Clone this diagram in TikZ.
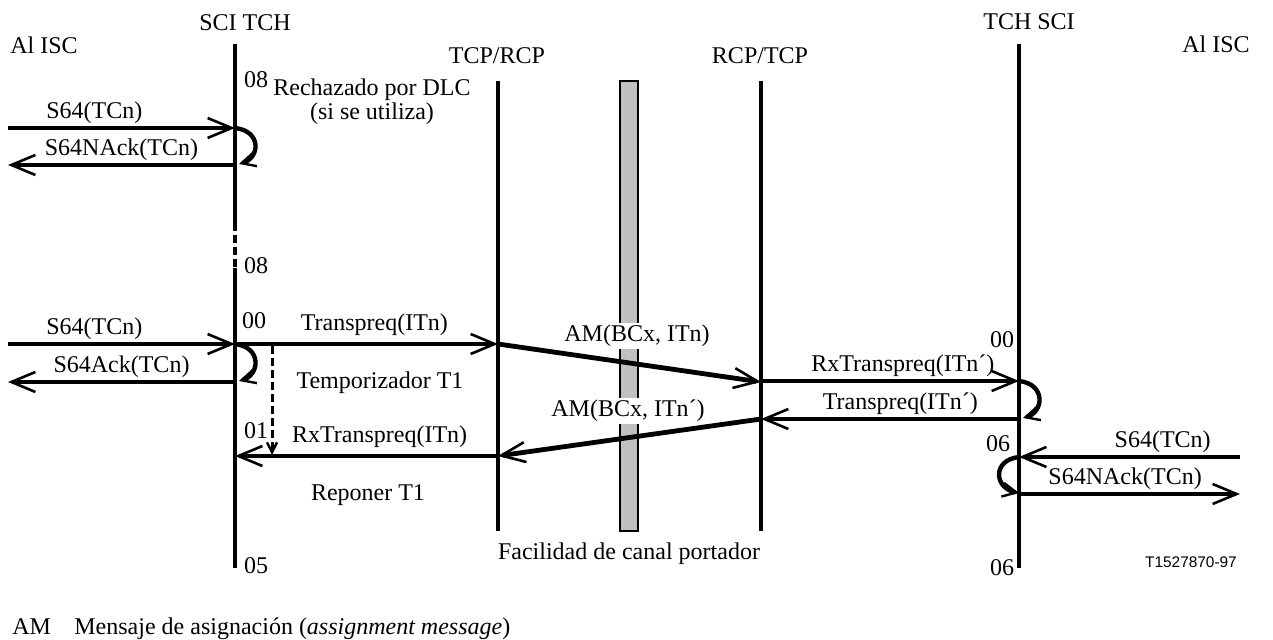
\documentclass[tikz,border=0pt]{standalone}
\usepackage{fontspec}
\setmainfont{Liberation Serif}
\newfontfamily\arialfont{Liberation Sans}
\usetikzlibrary{arrows.meta,positioning,calc}
\definecolor{barra}{RGB}{192,192,192}

\begin{document}
\begin{tikzpicture}[x=0.5pt, y=-0.5pt,
    every node/.style={font=\fontsize{12}{10}\selectfont, inner sep=1pt},
    vida/.style={line width=1.6pt},
    msg/.style={line width=2.4pt, -{Straight Barb[length=12pt,width=10pt,line width=1.3pt]}},
    lazo/.style={line width=2.2pt, -{Straight Barb[length=7pt,width=7pt,line width=1.2pt]}},
    tempo/.style={line width=1.5pt, dash pattern=on 4pt off 2pt, -{Straight Barb[length=5pt,width=5pt,line width=1.2pt,sep=0pt]}}]
    \useasboundingbox (0,0) rectangle (1273,640);

    % Cabeceras
    \node[anchor=west] (iscA) at (8,45) {Al ISC};
    \node (sciA) at (245,23) {SCI TCH};
    \node (tcp) at (497,56) {TCP/RCP};
    \node (rcp) at (760,56) {RCP/TCP};
    \node (sciB) at (1029,22) {TCH SCI};
    \node[anchor=east] (iscB) at (1252,44) {Al ISC};

    % Lineas de tiempo
    \coordinate (sa0) at (235,44);
    \coordinate (sa1) at (235,223);
    \coordinate (sa2) at (235,268);
    \coordinate (sa3) at (235,568);
    \draw[vida] (sa0) -- (sa1);
    \draw[vida, dash pattern=on 4pt off 2pt] (sa1) -- (sa2);
    \draw[vida] (sa2) -- (sa3);
    \coordinate (tc0) at (498,81);
    \coordinate (tc1) at (498,531);
    \draw[vida] (tc0) -- (tc1);
    \coordinate (rc0) at (761,81);
    \coordinate (rc1) at (761,531);
    \draw[vida] (rc0) -- (rc1);
    \coordinate (sb0) at (1019,44);
    \coordinate (sb1) at (1019,568);
    \draw[vida] (sb0) -- (sb1);

    % Canal portador
    \node[draw, line width=1.3pt, fill=barra, minimum width=9pt, minimum height=225pt] (canal) at (629,306) {};
    \node[below=4pt of canal] (facil) {Facilidad de canal portador};
    \node[fill=white] (am1) at (637,336) {AM(BCx, ITn)};
    \node[fill=white] (am2) at (628,411) {AM(BCx, ITn´)};

    % Estados
    \node (e08a) at (256,80) {08};
    \node (e08b) at (256,266) {08};
    \node (e00a) at (254,321) {00};
    \node (e01) at (256,431) {01};
    \node (e05) at (256,566) {05};
    \node (e00b) at (1002,340) {00};
    \node (e06a) at (998,444) {06};
    \node (e06b) at (1002,568) {06};
    \node[align=center] (rech) at (372,102) {Rechazado por DLC\\(si se utiliza)};
    \node (temp) at (380,383) {Temporizador T1};
    \node (repo) at (368,495) {Reponer T1};

    % Rechazo (lado A)
    \coordinate (ia1) at (8,128);
    \coordinate (ja1) at (235,128);
    \coordinate (ia2) at (8,165);
    \coordinate (ja2) at (235,165);
    \draw[msg] (ia1) -- (ja1) node[pos=0.38, above] {S64(TCn)};
    \draw[msg] (ja2) -- (ia2) node[midway, above] {S64NAck(TCn)};
    \draw[lazo] (ja1) .. controls (262,131) and (260,158) .. ($(ja2)+(4,-1)$);

    % Establecimiento
    \coordinate (ia3) at (8,344);
    \coordinate (ja3) at (235,344);
    \coordinate (ia4) at (8,382);
    \coordinate (ja4) at (235,382);
    \draw[msg] (ia3) -- (ja3) node[pos=0.38, above] {S64(TCn)};
    \draw[msg] (ja4) -- (ia4) node[midway, above] {S64Ack(TCn)};
    \draw[lazo] (ja3) .. controls (262,347) and (260,375) .. ($(ja4)+(4,-1)$);

    \coordinate (ta) at (498,344);
    \coordinate (ra) at (761,382);
    \coordinate (rb) at (761,419);
    \coordinate (tb) at (498,456);
    \coordinate (jb) at (235,456);
    \coordinate (sb2) at (1019,381);
    \coordinate (sb3) at (1019,419);
    \draw[msg] (ja3) -- (ta) node[pos=0.53, above=2pt] {Transpreq(ITn)};
    \draw[msg] (ta) -- (ra);
    \draw[msg] ($(rc0|-ra)+(0,-1)$) -- (sb2) node[pos=0.55, above] {RxTranspreq(ITn´)};
    \draw[lazo] (sb2) .. controls (1046,384) and (1044,412) .. ($(sb3)+(4,-1)$);
    \draw[msg] (sb3) -- (rb) node[pos=0.46, above] {Transpreq(ITn´)};
    \draw[msg] (rb) -- (tb);
    \draw[msg] (tb) -- (jb) node[pos=0.45, above=2pt] {RxTranspreq(ITn)};

    % Temporizador T1
    \coordinate (t0) at (272,346);
    \coordinate (t1) at (272,455);
    \draw[tempo] (t0) -- (t1);

    % Rechazo (lado B)
    \coordinate (ib1) at (1240,457);
    \coordinate (jb1) at (1019,457);
    \coordinate (ib2) at (1240,494);
    \coordinate (jb2) at (1019,494);
    \draw[msg] (ib1) -- (jb1) node[pos=0.35, above] {S64(TCn)};
    \draw[lazo] (jb1) .. controls (992,460) and (994,488) .. ($(jb2)+(0,-1)$);
    \draw[msg] (jb2) -- (ib2) node[pos=0.48, above] {S64NAck(TCn)};

    % Referencia y leyenda
    \node[font=\arialfont\fontsize{7.7}{9}\selectfont] (ref) at (1191,562) {T1527870-97};
    \node[anchor=base west] (am) at (10,634) {AM};
    \node[anchor=base west] (leyenda) at (72,634) {Mensaje de asignación (\textit{assignment message})};
\end{tikzpicture}
\end{document}
